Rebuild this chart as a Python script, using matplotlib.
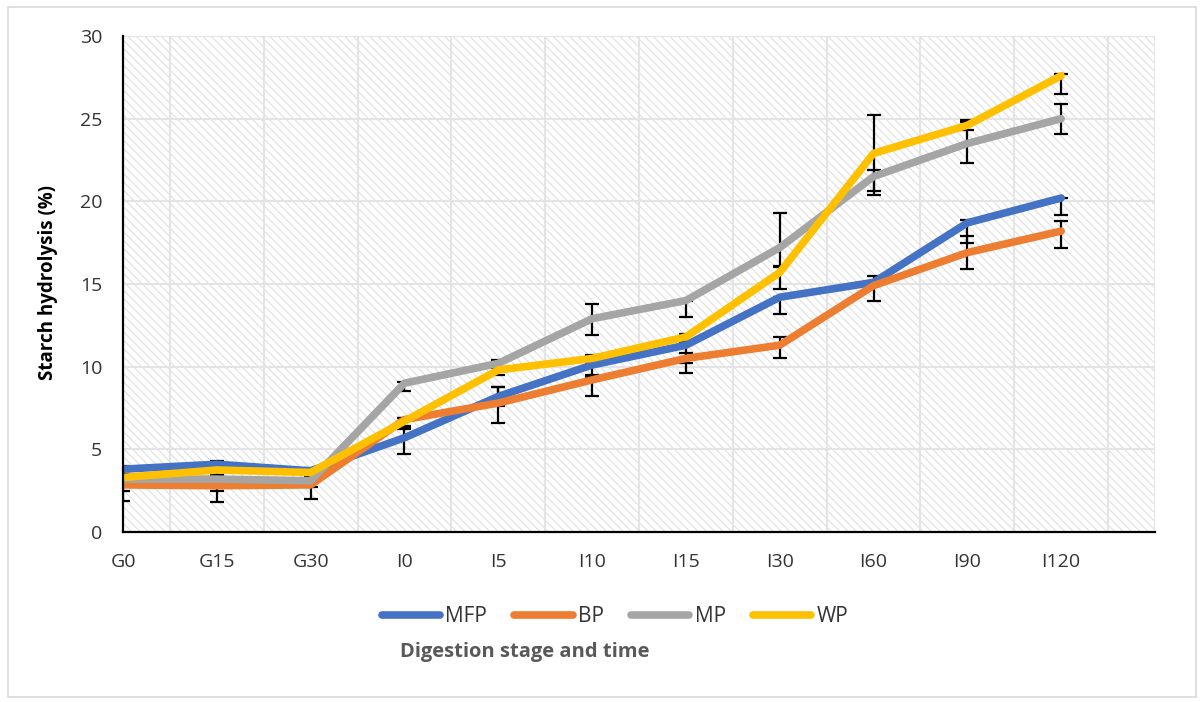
import numpy as np
import matplotlib.pyplot as plt
from matplotlib.patches import Rectangle

plt.rcParams['font.family'] = ['Open Sans', 'DejaVu Sans']

stages = ["G0", "G15", "G30", "I0", "I5", "I10", "I15", "I30", "I60", "I90", "I120"]

mfp = [3.8, 4.1, 3.7, 5.7, 8.2, 10.1, 11.3, 14.2, 15.1, 18.7, 20.2]
bp = [2.85, 2.8, 2.85, 6.8, 7.8, 9.2, 10.5, 11.3, 14.9, 16.9, 18.2]
mp = [3.2, 3.2, 3.1, 9.0, 10.2, 12.9, 14.0, 17.2, 21.5, 23.5, 25.0]
wp = [3.3, 3.75, 3.6, 6.7, 9.8, 10.5, 11.8, 15.7, 22.9, 24.6, 27.6]

# error bars (lower, upper)
mfp_lo = [0.3, 0.3, 0.3, 1.0, 0.6, 0.7, 1.1, 1.0, 0.2, 1.2, 1.0]
mfp_hi = [0.2, 0.2, 0.2, 0.5, 0.6, 0.3, 0.0, 0.0, 0.1, 0.2, 0.0]
bp_lo = [1.0, 1.0, 0.85, 0.5, 1.2, 1.0, 0.9, 0.8, 0.9, 1.0, 1.0]
bp_hi = [0.2, 0.2, 0.2, 0.1, 1.0, 0.3, 0.3, 0.5, 0.6, 1.0, 0.6]
mp_lo = [0.7, 0.7, 0.4, 0.5, 0.3, 1.0, 1.0, 1.1, 1.1, 1.2, 0.9]
mp_hi = [0.2, 0.2, 0.2, 0.1, 0.2, 0.9, 0.0, 2.1, 0.4, 1.3, 0.9]
wp_lo = [0.3, 0.3, 0.3, 0.3, 0.3, 0.3, 0.3, 1.0, 2.3, 0.3, 1.1]
wp_hi = [0.2, 0.2, 0.2, 0.2, 0.2, 0.2, 0.2, 0.3, 2.3, 0.3, 0.1]

series = [
    ("MFP", mfp, mfp_lo, mfp_hi, "#4472C4"),
    ("BP", bp, bp_lo, bp_hi, "#ED7D31"),
    ("MP", mp, mp_lo, mp_hi, "#A5A5A5"),
    ("WP", wp, wp_lo, wp_hi, "#FFC000"),
]

W, H = 1203, 702
fig = plt.figure(figsize=(W / 100, H / 100), dpi=100)
fig.add_artist(Rectangle((8 / W, 5 / H), 1188 / W, 690 / H, transform=fig.transFigure,
                         fill=False, edgecolor="#D9D9D9", linewidth=1.2))

ax = fig.add_axes([123 / W, 1 - 532 / H, (1155 - 123) / W, (532 - 36) / H])
ax.patch.set_facecolor("white")
plt.rcParams['hatch.linewidth'] = 0.7
ax.add_patch(Rectangle((0, 0), 1, 1, transform=ax.transAxes, facecolor="white",
                       edgecolor="#DCDCDC", hatch="\\\\\\\\", linewidth=0, zorder=0))

x = np.arange(len(stages))
for name, vals, lo, hi, col in series:
    ax.errorbar(x, vals, yerr=[lo, hi], fmt="none", ecolor="black", elinewidth=1.6,
                capsize=5, capthick=1.6, zorder=2)
for name, vals, lo, hi, col in series:
    ax.plot(x, vals, color=col, linewidth=5.5, solid_capstyle="round",
            solid_joinstyle="round", label=name, zorder=3)

ax.set_xlim(0, 11)
ax.set_ylim(0, 30)
ax.set_xticks(x)
ax.set_xticklabels(stages)
ax.set_yticks(range(0, 31, 5))
ax.set_xticks(np.arange(0, 11.01, 0.5), minor=True)
ax.grid(True, which="minor", axis="x", color="#E4E4E4", linewidth=1.5, zorder=1)
ax.grid(True, which="major", axis="y", color="#E4E4E4", linewidth=1.5, zorder=1)
ax.set_axisbelow(True)
ax.tick_params(which="both", length=0)
ax.tick_params(axis="y", pad=15, labelsize=14, labelcolor="#333333")
ax.tick_params(axis="x", pad=15, labelsize=14, labelcolor="#333333")
for s in ["top", "right"]:
    ax.spines[s].set_visible(False)
for s in ["left", "bottom"]:
    ax.spines[s].set_linewidth(1.6)
    ax.spines[s].set_color("black")
    ax.spines[s].set_zorder(4)

fig.text(48 / W, 1 - 282 / H, "Starch hydrolysis (%)", rotation=90, ha="center", va="center",
         fontsize=13.5, fontweight="bold", color="black")
fig.text(525 / W, 1 - 652 / H, "Digestion stage and time", ha="center", va="center",
         fontsize=14.5, fontweight="bold", color="#595959")

handles, labels = ax.get_legend_handles_labels()
fig.legend(handles, labels, loc="center", bbox_to_anchor=(615 / W, 1 - 617 / H), ncol=4,
           frameon=False, fontsize=15, handlelength=2.8, handletextpad=0.25,
           columnspacing=1.3, labelcolor="#333333")

fig.savefig("out.png", dpi=100)
